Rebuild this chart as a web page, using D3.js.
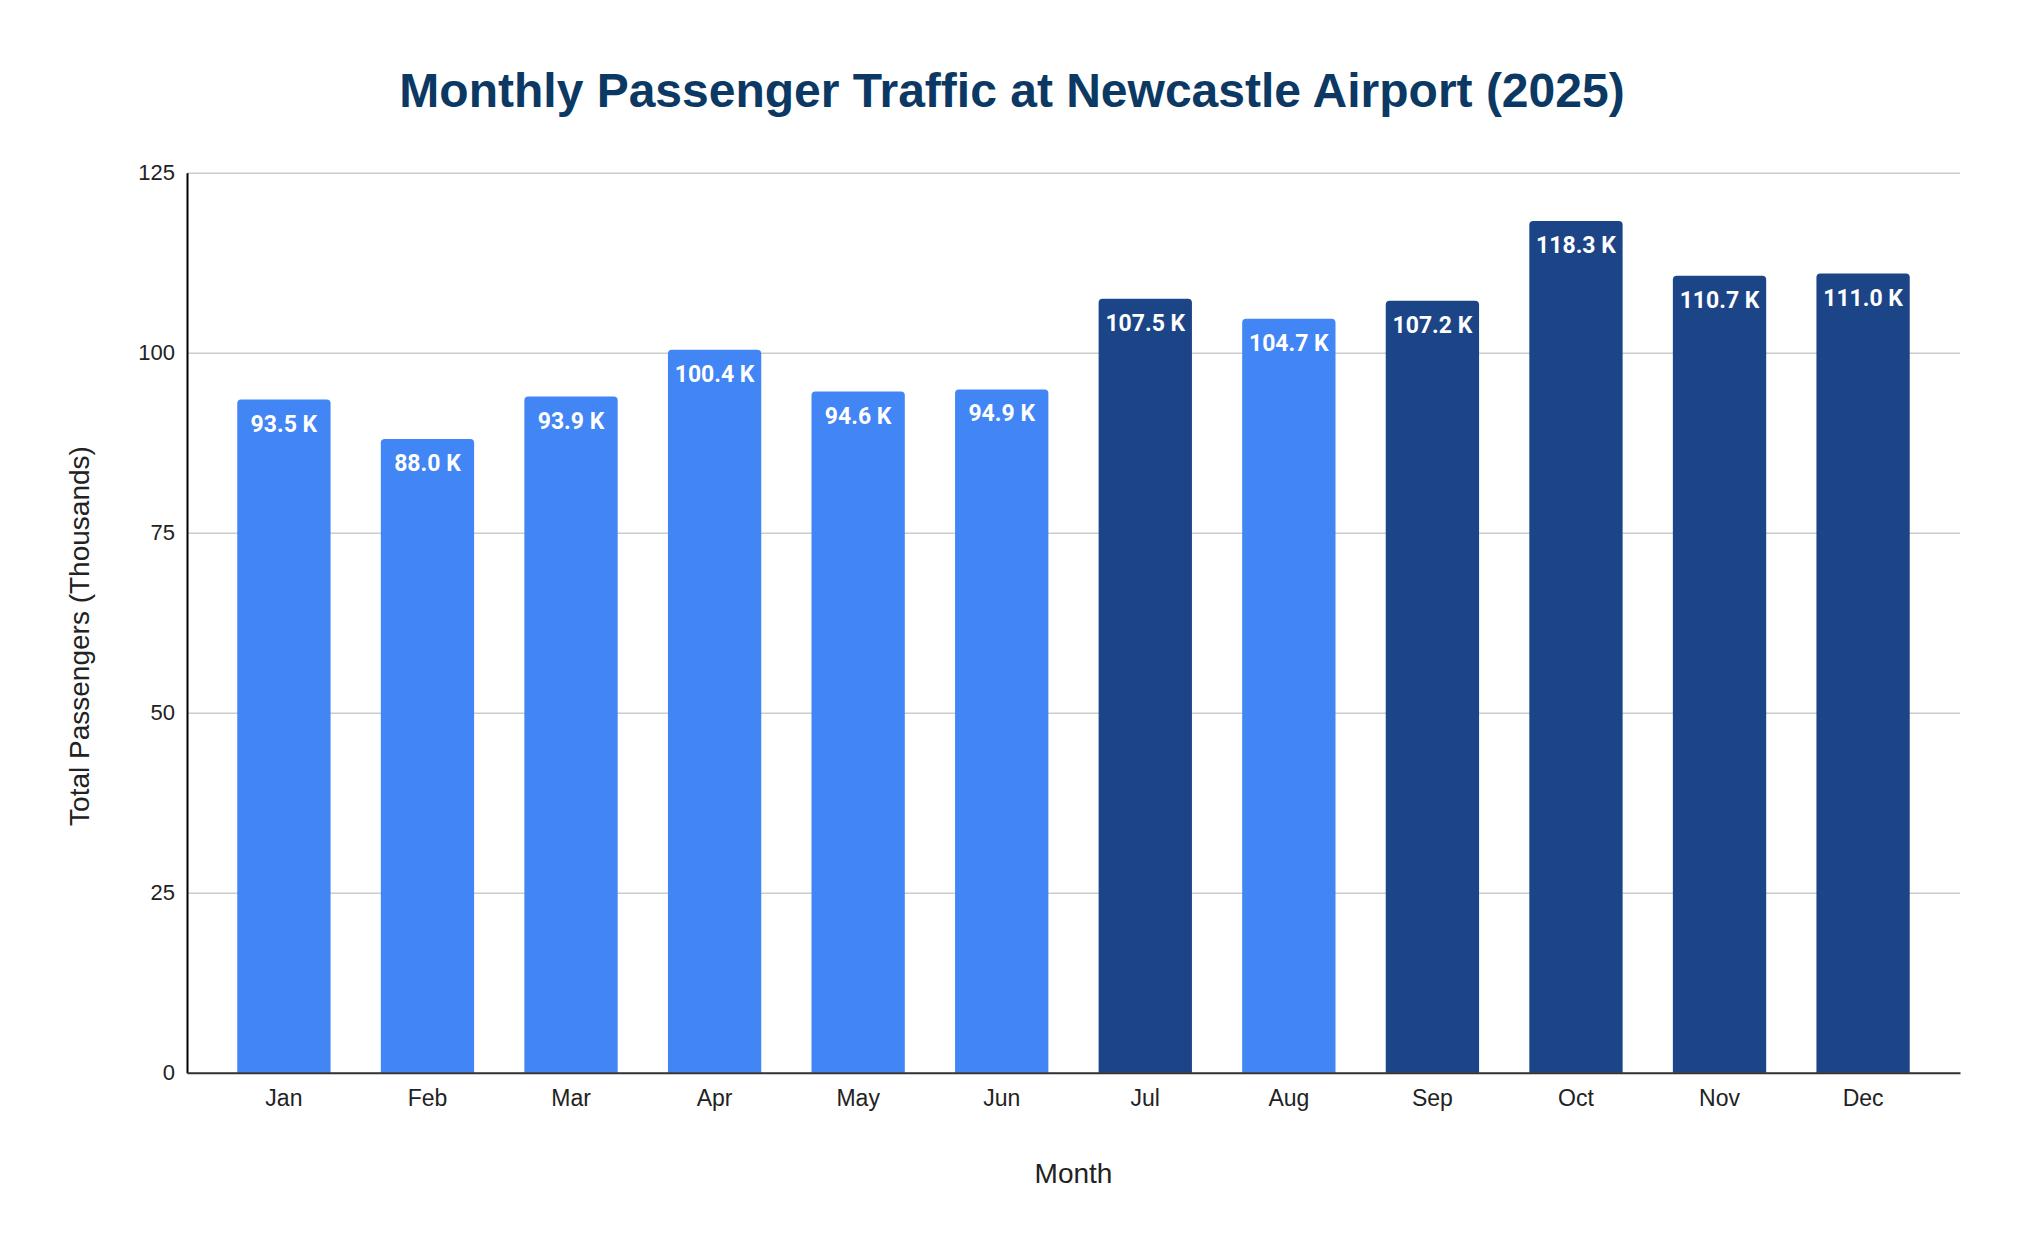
<!DOCTYPE html>
<html>
<head>
<meta charset="utf-8">
<script src="https://cdn.jsdelivr.net/npm/d3@7.9.0/dist/d3.min.js"></script>
<style>
  body { margin: 0; background: #fff; }
  svg { display: block; }
</style>
</head>
<body>
<svg id="chart" width="2024" height="1250"></svg>
<script>
// chart data
const months = ['Jan', 'Feb', 'Mar', 'Apr', 'May', 'Jun', 'Jul', 'Aug', 'Sep', 'Oct', 'Nov', 'Dec'];
const passengers = [93.5, 88.0, 93.9, 100.4, 94.6, 94.9, 107.5, 104.7, 107.2, 118.3, 110.7, 111.0];
const peakMonths = ['Jul', 'Sep', 'Oct', 'Nov', 'Dec'];
const yTicks = [0, 25, 50, 75, 100, 125];

// plot box (window.top is taken, so no bare "top")
const plotLeft = 187, plotRight = 1960, plotTop = 172.7, plotBottom = 1072.7;
const svg = d3.select('#chart');

const x = d3.scaleBand().domain(months).range([plotLeft, plotRight])
  .paddingInner(0.35).paddingOuter(0.35);
const y = d3.scaleLinear().domain([0, 125]).range([plotBottom, plotTop]);

// title
svg.append('text')
  .attr('x', 1012).attr('y', 107)
  .attr('text-anchor', 'middle')
  .attr('font-family', 'Liberation Sans, Arial, sans-serif')
  .attr('font-weight', 'bold')
  .attr('font-size', 48)
  .attr('fill', '#0b3963')
  .text('Monthly Passenger Traffic at Newcastle Airport (2025)');

// gridlines
const grid = svg.append('g')
  .attr('transform', `translate(${plotLeft},0)`)
  .call(d3.axisLeft(y).tickValues(yTicks).tickSize(-(plotRight - plotLeft)).tickFormat(''));
grid.select('.domain').remove();
grid.selectAll('line').attr('stroke', '#cccccc').attr('stroke-width', 1.5);

// bars, top corners slightly rounded
const r = 4;
const barPath = (d, i) => {
  const x0 = x(months[i]), w = x.bandwidth(), y0 = y(d), y1 = y(0);
  return `M${x0},${y1}V${y0 + r}Q${x0},${y0} ${x0 + r},${y0}H${x0 + w - r}Q${x0 + w},${y0} ${x0 + w},${y0 + r}V${y1}Z`;
};

svg.append('g').selectAll('path')
  .data(passengers)
  .join('path')
  .attr('d', barPath)
  .attr('fill', (d, i) => peakMonths.includes(months[i]) ? '#1c4587' : '#4285f4');

svg.append('g').selectAll('text')
  .data(passengers)
  .join('text')
  .attr('x', (d, i) => x(months[i]) + x.bandwidth() / 2)
  .attr('y', d => y(d) + 32)
  .attr('text-anchor', 'middle')
  .attr('font-family', 'Roboto, sans-serif')
  .attr('font-weight', 'bold')
  .attr('font-size', 23)
  .attr('fill', '#ffffff')
  .text(d => `${d.toFixed(1)} K`);

// y axis
const yAxis = svg.append('g')
  .attr('transform', `translate(${plotLeft},0)`)
  .call(d3.axisLeft(y).tickValues(yTicks).tickSize(0).tickPadding(12));
yAxis.select('.domain').attr('stroke', '#000').attr('stroke-width', 2);
yAxis.selectAll('text')
  .attr('font-family', 'Liberation Sans, Arial, sans-serif')
  .attr('font-size', 22)
  .attr('fill', '#222');

// x axis
const xAxis = svg.append('g')
  .attr('transform', `translate(0,${plotBottom})`)
  .call(d3.axisBottom(x).tickSize(0).tickPadding(17));
xAxis.select('.domain').attr('stroke', '#333').attr('stroke-width', 2);
xAxis.selectAll('text')
  .attr('font-family', 'Liberation Sans, Arial, sans-serif')
  .attr('font-size', 23)
  .attr('fill', '#222');

// axis titles
svg.append('text')
  .attr('x', (plotLeft + plotRight) / 2).attr('y', 1183)
  .attr('text-anchor', 'middle')
  .attr('font-family', 'Liberation Sans, Arial, sans-serif')
  .attr('font-size', 28)
  .attr('fill', '#222')
  .text('Month');

svg.append('text')
  .attr('transform', 'translate(89,636) rotate(-90)')
  .attr('text-anchor', 'middle')
  .attr('font-family', 'Liberation Sans, Arial, sans-serif')
  .attr('font-size', 28)
  .attr('fill', '#222')
  .text('Total Passengers (Thousands)');
</script>
</body>
</html>
